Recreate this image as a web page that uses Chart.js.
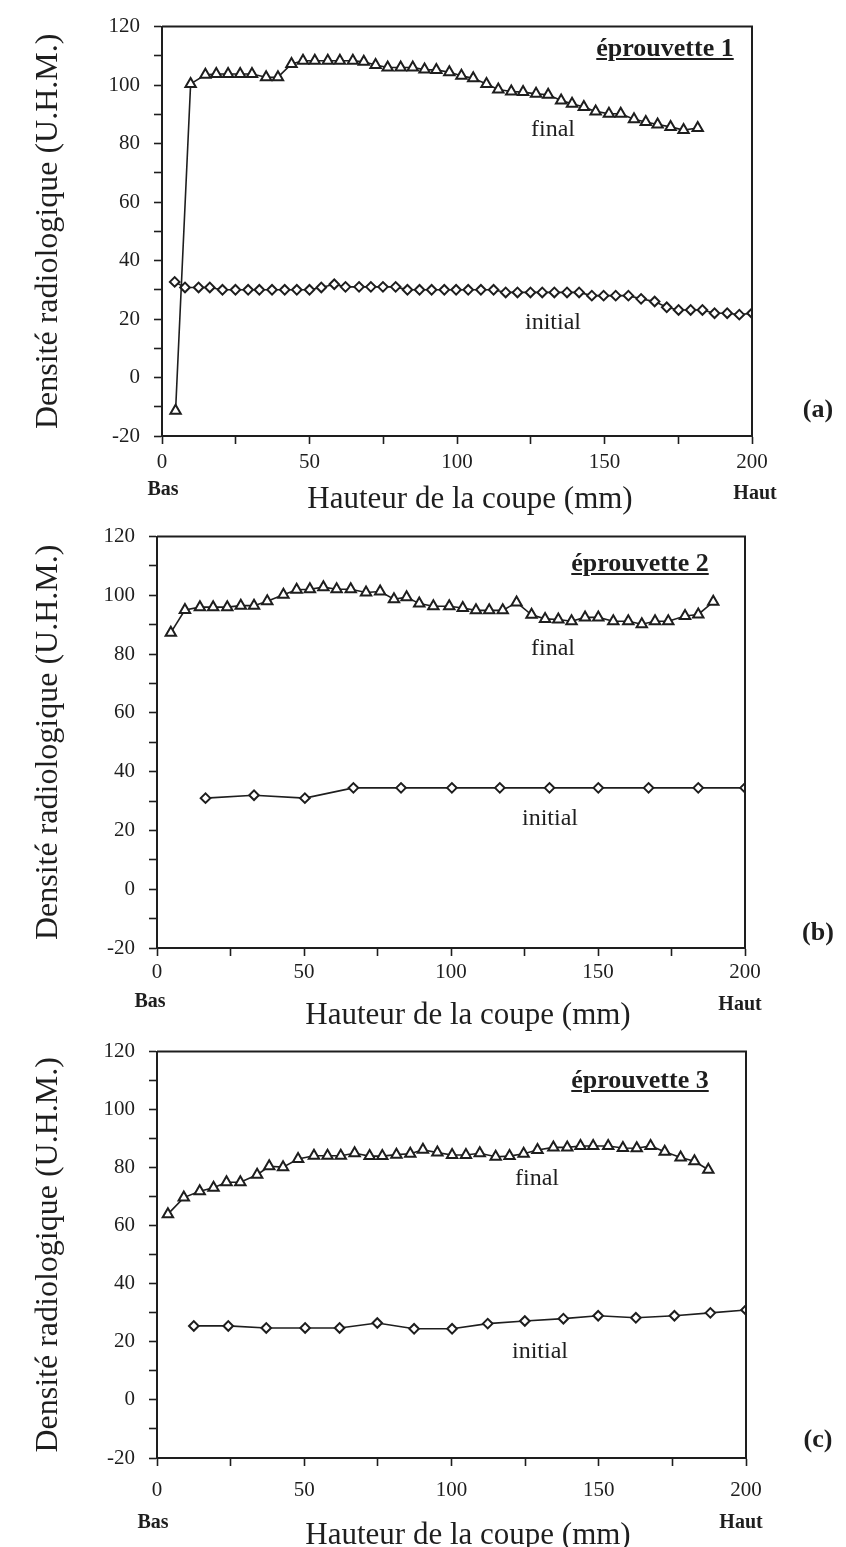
<!DOCTYPE html>
<html>
<head>
<meta charset="utf-8">
<script src="https://cdn.jsdelivr.net/npm/chart.js@4.4.1/dist/chart.umd.min.js"></script>
<style>
body { margin: 0; background: #fff; }
#page { position: relative; width: 846px; height: 1547px; overflow: hidden; font-family: 'Liberation Serif', serif; color: #1e1e1e; }
canvas { position: absolute; left: 0; }
.t { position: absolute; white-space: nowrap; transform: translate(-50%, -50%); line-height: 1; }
.spec { font-weight: bold; font-size: 26px; text-decoration: underline; }
.curve { font-size: 24px; }
.tag { font-weight: bold; font-size: 26px; }
.end { font-weight: bold; font-size: 20px; }
.xt { font-size: 31px; }
</style>
</head>
<body>
<div id="page">
  <canvas id="c1" width="846" height="520" style="top:0px"></canvas>
  <canvas id="c2" width="846" height="510" style="top:510px"></canvas>
  <canvas id="c3" width="846" height="522" style="top:1025px"></canvas>

  <div class="t spec" style="left:665px;top:48px">éprouvette 1</div>
  <div class="t curve" style="left:553px;top:128px">final</div>
  <div class="t curve" style="left:553px;top:321px">initial</div>
  <div class="t tag" style="left:818px;top:409px">(a)</div>
  <div class="t end" style="left:163px;top:488px">Bas</div>
  <div class="t end" style="left:755px;top:492px">Haut</div>
  <div class="t xt" style="left:470px;top:497px">Hauteur de la coupe (mm)</div>

  <div class="t spec" style="left:640px;top:563px">éprouvette 2</div>
  <div class="t curve" style="left:553px;top:647px">final</div>
  <div class="t curve" style="left:550px;top:817px">initial</div>
  <div class="t tag" style="left:818px;top:932px">(b)</div>
  <div class="t end" style="left:150px;top:1000px">Bas</div>
  <div class="t end" style="left:740px;top:1003px">Haut</div>
  <div class="t xt" style="left:468px;top:1013px">Hauteur de la coupe (mm)</div>

  <div class="t spec" style="left:640px;top:1080px">éprouvette 3</div>
  <div class="t curve" style="left:537px;top:1177px">final</div>
  <div class="t curve" style="left:540px;top:1350px">initial</div>
  <div class="t tag" style="left:818px;top:1439px">(c)</div>
  <div class="t end" style="left:153px;top:1521px">Bas</div>
  <div class="t end" style="left:741px;top:1521px">Haut</div>
  <div class="t xt" style="left:468px;top:1533px">Hauteur de la coupe (mm)</div>
</div>

<script>
// eprouvette 1
var final1X = [4.6, 9.7, 14.7, 18.4, 22.4, 26.5, 30.5, 35.3, 39.3, 43.9, 47.8, 51.8, 56.2, 60.3, 64.7, 68.4, 72.4, 76.5, 80.9, 85, 89, 93, 97.4, 101.5, 105.5, 110, 114, 118.4, 122.4, 126.8, 130.9, 135.3, 139, 143, 147, 151.5, 155.5, 160, 164, 168, 172.4, 176.8, 181.6];
var final1Y = [-11.4, 100.4, 103.5, 103.8, 103.8, 103.8, 103.8, 102.7, 102.7, 107.2, 108.3, 108.3, 108.3, 108.3, 108.3, 108, 106.9, 106, 106, 106, 105.3, 105.2, 104.4, 103.2, 102.3, 100.4, 98.5, 97.8, 97.6, 97, 96.7, 94.7, 93.6, 92.5, 91, 90.2, 90.2, 88.3, 87.4, 86.5, 85.7, 84.6, 85.3];
var init1X = [4.3, 7.8, 12.4, 16.2, 20.5, 24.9, 29.2, 33, 37.3, 41.6, 45.7, 50, 54, 58.4, 62.2, 66.8, 70.8, 74.9, 79.2, 83.2, 87.3, 91.4, 95.7, 99.7, 103.8, 108.1, 112.4, 116.5, 120.5, 124.9, 128.9, 133, 137.3, 141.4, 145.7, 149.7, 153.8, 158.1, 162.4, 167, 171.1, 175.1, 179.2, 183.2, 187.3, 191.6, 195.7, 200];
var init1Y = [32.7, 30.8, 30.8, 30.8, 30, 30, 30, 30, 30, 30, 30, 30, 30.8, 31.9, 31, 31, 31, 31, 31, 30, 30, 30, 30, 30, 30, 30, 30, 29.1, 29.1, 29.1, 29.1, 29.1, 29.1, 29.1, 28, 28, 28, 28, 26.9, 26, 24, 23.1, 23.1, 23.1, 22, 22, 21.5, 22];

// eprouvette 2
var final2X = [4.7, 9.5, 14.6, 19.1, 23.9, 28.5, 33, 37.5, 43, 47.5, 52, 56.6, 61.1, 65.9, 71.1, 75.9, 80.6, 84.9, 89.2, 94, 99.4, 104, 108.5, 113, 117.6, 122.3, 127.4, 132, 136.5, 141, 145.6, 150.1, 155.2, 160.3, 164.9, 169.4, 173.9, 179.6, 184.1, 189.2];
var final2Y = [87.3, 95, 96, 96, 96, 96.5, 96.5, 98, 100.2, 101.9, 102.1, 102.8, 102.1, 102.1, 101, 101.3, 98.7, 99.4, 97.2, 96.3, 96.3, 95.7, 94.9, 94.9, 94.9, 97.6, 93.4, 92, 91.8, 91.2, 92.5, 92.5, 91.2, 91.2, 90.2, 91.2, 91.2, 93, 93.5, 97.8];
var init2X = [16.5, 33, 50.3, 66.8, 83, 100.3, 116.6, 133.5, 150.1, 167.2, 184.1, 200];
var init2Y = [31, 32, 31, 34.5, 34.5, 34.5, 34.5, 34.5, 34.5, 34.5, 34.5, 34.5];

// eprouvette 3
var final3X = [3.7, 9.1, 14.5, 19.2, 23.6, 28.3, 34, 38.1, 42.8, 47.9, 53.3, 57.9, 62.4, 67.1, 72.2, 76.5, 81.3, 86, 90.3, 95.2, 100.2, 104.9, 109.6, 115, 119.7, 124.5, 129.2, 134.6, 139.3, 143.8, 148.1, 153.2, 158.2, 162.9, 167.6, 172.4, 177.8, 182.5, 187.2];
var final3Y = [64, 69.7, 71.9, 73.1, 75, 75, 77.6, 80.5, 80.2, 83, 84.1, 84.1, 84.1, 85, 84, 84, 84.5, 84.8, 86.2, 85.2, 84.4, 84.4, 85, 83.8, 84, 84.8, 86.1, 87, 87, 87.5, 87.5, 87.5, 86.8, 86.7, 87.5, 85.5, 83.5, 82.2, 79.3];
var init3X = [12.5, 24.2, 37.1, 50.3, 62, 74.8, 87.3, 100.2, 112.3, 124.9, 138, 149.8, 162.6, 175.7, 187.9, 200];
var init3Y = [25.5, 25.5, 24.8, 24.8, 24.8, 26.5, 24.5, 24.5, 26.3, 27.2, 28, 29, 28.3, 29, 30, 31];

var xLabeled = [0, 50, 100, 150, 200];
var yLabeled = [-20, 0, 20, 40, 60, 80, 100, 120];
var yTitle = 'Densité radiologique (U.H.M.)';

var ink = '#1e1e1e';

Chart.defaults.font.family = "'Liberation Serif', serif";
Chart.defaults.color = ink;

function toPoints(xs, ys) {
    var pts = [];
    for (let i = 0; i < xs.length; i++) {
        pts.push({ x: xs[i], y: ys[i] });
    }
    return pts;
};

// top and right edges of the box
var frame = {
    id: 'frame',
    afterDraw: function (chart) {
        var a = chart.chartArea;
        var ctx = chart.ctx;
        ctx.save();
        ctx.strokeStyle = ink;
        ctx.lineWidth = 2;
        ctx.beginPath();
        ctx.moveTo(a.left, a.top);
        ctx.lineTo(a.right, a.top);
        ctx.lineTo(a.right, a.bottom);
        ctx.stroke();
        ctx.restore();
    }
};

function panelChart(id, fx, fy, ix, iy, box) {
    const ctx = document.getElementById(id);

    return new Chart(ctx, {
      type: 'scatter',
      data: {
        datasets: [{
          data: toPoints(fx, fy),
          showLine: true,
          borderColor: ink,
          borderWidth: 1.6,
          pointStyle: 'triangle',
          pointRadius: 6,
          pointBorderWidth: 2,
          pointBackgroundColor: '#fff',
          pointBorderColor: ink
        }, {
          data: toPoints(ix, iy),
          showLine: true,
          borderColor: ink,
          borderWidth: 1.6,
          pointStyle: 'rectRot',
          pointRadius: 4.8,
          pointBorderWidth: 2,
          pointBackgroundColor: '#fff',
          pointBorderColor: ink
        }]
      },
      options: {
        responsive: false,
        animation: false,
        layout: {
          padding: { left: 0, top: box.top, right: box.right, bottom: 0 }
        },
        scales: {
          x: {
            type: 'linear',
            min: 0,
            max: 200,
            afterFit: function (s) { s.height = box.xh; },
            ticks: {
                stepSize: 25,
                autoSkip: false,
                maxRotation: 0,
                padding: box.xpad,
                font: { size: 21 },
                callback: function (v) { return xLabeled.includes(v) ? v : ''; }
            },
            grid: { drawOnChartArea: false, tickLength: 8, color: ink, tickWidth: 1.6 },
            border: { color: ink, width: 2 }
          },
          y: {
            min: -20,
            max: 120,
            afterFit: function (s) { s.width = box.left; },
            ticks: {
                stepSize: 10,
                autoSkip: false,
                padding: 14,
                font: { size: 21 },
                callback: function (v) { return yLabeled.includes(v) ? v : ''; }
            },
            grid: { drawOnChartArea: false, tickLength: 8, color: ink, tickWidth: 1.6 },
            border: { color: ink, width: 2 },
            title: {
                display: true,
                text: yTitle,
                font: { size: 32 },
                padding: { top: 29, bottom: 0 }
            }
          }
        },
        plugins: {
            legend: { display: false },
            tooltip: { enabled: false }
        }
      },
      plugins: [frame]
    });
};

panelChart('c1', final1X, final1Y, init1X, init1Y, { top: 24, right: 94, left: 162, xh: 84, xpad: 6 });
panelChart('c2', final2X, final2Y, init2X, init2Y, { top: 23, right: 101, left: 157, xh: 72, xpad: 4 });
panelChart('c3', final3X, final3Y, init3X, init3Y, { top: 23, right: 100, left: 157, xh: 89, xpad: 12 });
</script>
</body>
</html>
